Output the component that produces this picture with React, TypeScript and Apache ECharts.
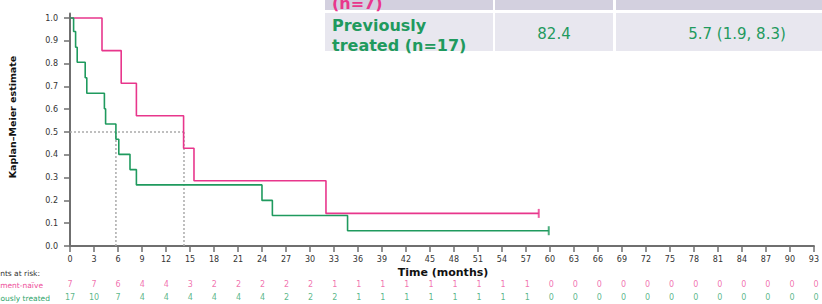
import React, { useEffect, useRef } from 'react';
import * as echarts from 'echarts';

// Kaplan–Meier step points [time (months), survival]
const naiveCurve: [number, number][] = [
  [0, 1.0], [4.0, 0.857], [6.4, 0.714], [8.3, 0.571], [14.2, 0.429], [15.5, 0.286], [32.0, 0.143], [58.6, 0.143],
];
const treatedCurve: [number, number][] = [
  [0, 1.0], [0.45, 0.941], [0.7, 0.872], [0.9, 0.806], [1.9, 0.738], [2.1, 0.67], [4.3, 0.602], [4.45, 0.535],
  [5.74, 0.468], [6.1, 0.402], [7.5, 0.335], [8.3, 0.268], [24.0, 0.2], [25.3, 0.134], [34.7, 0.067], [59.85, 0.067],
];
const naiveCensor: [number, number][] = [[58.6, 0.143]];
const treatedCensor: [number, number][] = [[59.85, 0.067]];

const medianTimes = [5.74, 14.25];
const medianLevel = 0.5;

const yTicks = [0, 0.1, 0.2, 0.3, 0.4, 0.5, 0.6, 0.7, 0.8, 0.9, 1.0];
const riskTimes = [0, 3, 6, 9, 12, 15, 18, 21, 24, 27, 30, 33, 36, 39, 42, 45, 48, 51, 54, 57, 60, 63, 66, 69, 72, 75, 78, 81, 84, 87, 90, 93];
const riskNaive = [7, 7, 6, 4, 4, 3, 2, 2, 2, 2, 2, 1, 1, 1, 1, 1, 1, 1, 1, 1, 0, 0, 0, 0, 0, 0, 0, 0, 0, 0, 0, 0];
const riskTreated = [17, 10, 7, 4, 4, 4, 4, 4, 4, 2, 2, 2, 1, 1, 1, 1, 1, 1, 1, 1, 0, 0, 0, 0, 0, 0, 0, 0, 0, 0, 0, 0];
const riskGroups = ['Treatment-naïve', 'Previously treated'];

const tableTreated = ['Previously', 'treated (n=17)', '82.4', '5.7 (1.9, 8.3)'];
const tableNaive = ['(n=7)'];

const PINK = '#e8368c';
const GREEN = '#1f9a5e';
const AXIS = '#6f6f6f';
const FONT = 'DejaVu Sans';

export default function App() {
  const ref = useRef<HTMLDivElement>(null);
  useEffect(() => {
    if (!ref.current) return;
    const chart = echarts.init(ref.current, null, { renderer: 'svg' });
    const medianLines: any[] = [
      { data: [[0, medianLevel], [medianTimes[1], medianLevel]] },
      ...medianTimes.map((t) => ({ data: [[t, 0], [t, medianLevel]] })),
    ];
    chart.setOption({
      animation: false,
      textStyle: { fontFamily: FONT },
      grid: [
        { left: 70, right: 6, top: 13.44, bottom: 58 },
        { left: 70, right: 6, top: 278, height: 26 },
      ],
      xAxis: [
        {
          type: 'value', gridIndex: 0, min: 0, max: 93, interval: 3,
          axisLine: { show: true, onZero: false, lineStyle: { color: AXIS, width: 2 } },
          axisTick: { show: true, length: 6, lineStyle: { color: AXIS, width: 1.5 } },
          axisLabel: { fontSize: 8, color: '#333', margin: 9, fontFamily: FONT },
          splitLine: { show: false },
        },
        { type: 'value', gridIndex: 1, min: 0, max: 93, show: false },
      ],
      yAxis: [
        {
          type: 'value', gridIndex: 0, min: 0, max: 1.02,
          axisLine: { show: true, onZero: false, lineStyle: { color: AXIS, width: 2 } },
          axisTick: { show: true, length: 6, customValues: yTicks, lineStyle: { color: AXIS, width: 1.5 } },
          axisLabel: {
            customValues: yTicks, fontSize: 8, color: '#333', margin: 12, fontFamily: FONT,
            formatter: (v: number) => (v > 1.001 ? '' : v.toFixed(1)),
          },
          splitLine: { show: false },
        },
        { type: 'category', gridIndex: 1, data: riskGroups, inverse: true, show: false },
      ],
      series: [
        ...medianLines.map((m) => ({
          type: 'line', data: m.data, symbol: 'none', silent: true,
          lineStyle: { color: '#aaaaaa', width: 1.5, type: [2, 2] }, z: 1,
        })),
        {
          type: 'line', name: riskGroups[0], data: naiveCurve, step: 'end', symbol: 'none',
          lineStyle: { color: PINK, width: 1.6 }, z: 2,
        },
        {
          type: 'line', name: riskGroups[1], data: treatedCurve, step: 'end', symbol: 'none',
          lineStyle: { color: GREEN, width: 1.6 }, z: 3,
        },
        {
          type: 'scatter', data: naiveCensor, symbol: 'rect', symbolSize: [2, 9],
          itemStyle: { color: PINK }, z: 4,
        },
        {
          type: 'scatter', data: treatedCensor, symbol: 'rect', symbolSize: [2, 9],
          itemStyle: { color: GREEN }, z: 4,
        },
        {
          type: 'scatter', xAxisIndex: 1, yAxisIndex: 1, symbolSize: 1,
          itemStyle: { color: 'transparent' },
          data: riskTimes.map((t, i) => [t, riskGroups[0], riskNaive[i]]),
          label: {
            show: true, position: 'inside', formatter: (p: any) => String(p.value[2]),
            fontSize: 8, color: '#ee4f9b', fontFamily: FONT,
          },
        },
        {
          type: 'scatter', xAxisIndex: 1, yAxisIndex: 1, symbolSize: 1,
          itemStyle: { color: 'transparent' },
          data: riskTimes.map((t, i) => [t, riskGroups[1], riskTreated[i]]),
          label: {
            show: true, position: 'inside', formatter: (p: any) => String(p.value[2]),
            fontSize: 8, color: '#2fa56c', fontFamily: FONT,
          },
        },
      ],
      graphic: [
        // table backgrounds
        { type: 'rect', shape: { x: 325, y: -20, width: 168, height: 30 }, style: { fill: '#d3d0df' }, z: 0 },
        { type: 'rect', shape: { x: 495, y: -20, width: 118, height: 30 }, style: { fill: '#d3d0df' }, z: 0 },
        { type: 'rect', shape: { x: 616, y: -20, width: 206, height: 30 }, style: { fill: '#d3d0df' }, z: 0 },
        { type: 'rect', shape: { x: 325, y: 13, width: 168, height: 38 }, style: { fill: '#e8e7ef' }, z: 0 },
        { type: 'rect', shape: { x: 495, y: 13, width: 118, height: 38 }, style: { fill: '#e8e7ef' }, z: 0 },
        { type: 'rect', shape: { x: 616, y: 13, width: 206, height: 38 }, style: { fill: '#e8e7ef' }, z: 0 },
        {
          type: 'text', x: 332, y: 3, z: 10,
          style: { text: tableNaive[0], fill: PINK, font: `bold 16px "${FONT}"`, verticalAlign: 'middle' },
        },
        {
          type: 'text', x: 332, y: 25, z: 10,
          style: { text: tableTreated[0], fill: GREEN, font: `bold 16px "${FONT}"`, verticalAlign: 'middle' },
        },
        {
          type: 'text', x: 332, y: 45, z: 10,
          style: { text: tableTreated[1], fill: GREEN, font: `bold 16px "${FONT}"`, verticalAlign: 'middle' },
        },
        {
          type: 'text', x: 554, y: 34, z: 10,
          style: { text: tableTreated[2], fill: GREEN, font: `15px "${FONT}"`, align: 'center', verticalAlign: 'middle' },
        },
        {
          type: 'text', x: 737, y: 34, z: 10,
          style: { text: tableTreated[3], fill: GREEN, font: `15px "${FONT}"`, align: 'center', verticalAlign: 'middle' },
        },
        // axis titles
        {
          type: 'text', x: 12, y: 117, rotation: Math.PI / 2, z: 10,
          style: { text: 'Kaplan–Meier estimate', fill: '#111', font: `bold 9.5px "${FONT}"`, align: 'center', verticalAlign: 'middle' },
        },
        {
          type: 'text', x: 443, y: 272, z: 10,
          style: { text: 'Time (months)', fill: '#111', font: `bold 11px "${FONT}"`, align: 'center', verticalAlign: 'middle' },
        },
        // risk table labels
        {
          type: 'text', x: 40, y: 273, z: 10,
          style: { text: 'Patients at risk:', fill: '#333', font: `7.5px "${FONT}"`, align: 'right', verticalAlign: 'middle' },
        },
        {
          type: 'text', x: 43, y: 285, z: 10,
          style: { text: riskGroups[0], fill: '#ee4f9b', font: `7.5px "${FONT}"`, align: 'right', verticalAlign: 'middle' },
        },
        {
          type: 'text', x: 50, y: 298, z: 10,
          style: { text: riskGroups[1], fill: '#2fa56c', font: `7.5px "${FONT}"`, align: 'right', verticalAlign: 'middle' },
        },
      ],
    });
    return () => chart.dispose();
  }, []);
  return <div ref={ref} style={{ width: 822, height: 304, position: 'absolute', left: 0, top: 0 }} />;
}
